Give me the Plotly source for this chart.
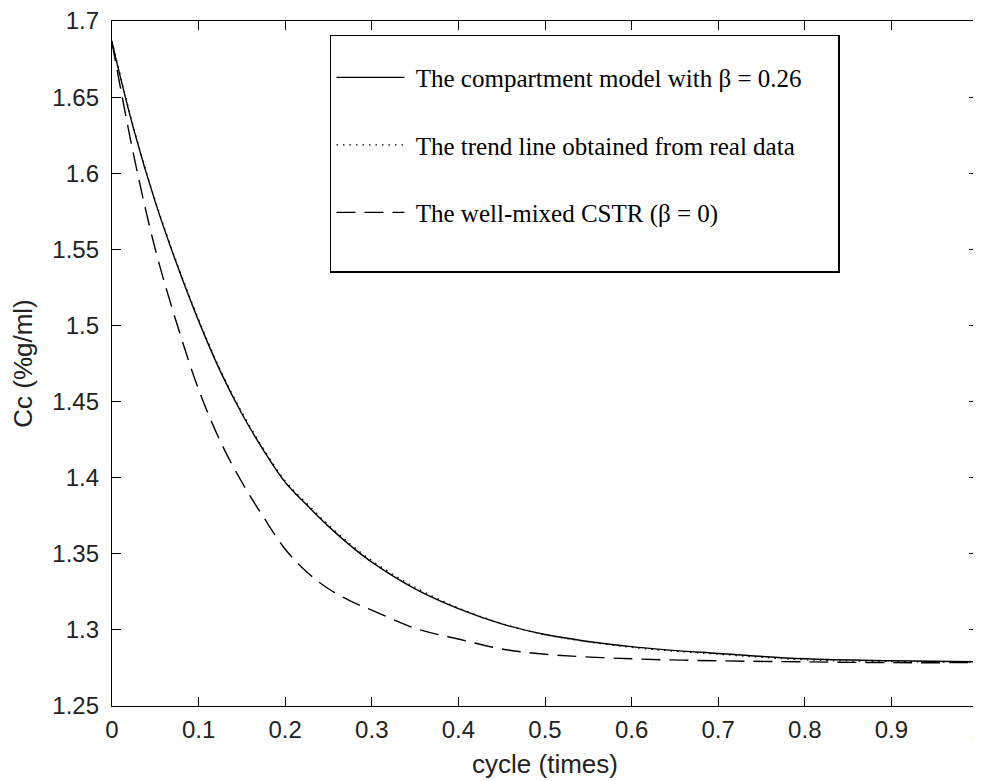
import plotly.graph_objects as go

# cycle (times)
t_grid = [0.0, 0.025, 0.05, 0.075, 0.1, 0.125, 0.15, 0.175, 0.2, 0.225, 0.25, 0.275, 0.3, 0.35,
          0.4, 0.45, 0.5, 0.6, 0.7, 0.8, 0.9, 1.0]
# The compartment model with beta = 0.26
cc_model = [1.686, 1.629, 1.581, 1.540, 1.503, 1.470, 1.442, 1.418, 1.397, 1.382, 1.368, 1.3555,
            1.3445, 1.327, 1.314, 1.304, 1.297, 1.289, 1.2845, 1.281, 1.2797, 1.279]
# The trend line obtained from real data
cc_trend = [1.687, 1.630, 1.582, 1.541, 1.504, 1.471, 1.443, 1.419, 1.398, 1.383, 1.369, 1.3565,
            1.3455, 1.328, 1.3145, 1.3042, 1.2968, 1.2885, 1.284, 1.2803, 1.2792, 1.2787]
# The well-mixed CSTR (beta = 0)
cc_cstr = [1.686, 1.612, 1.550, 1.501, 1.458, 1.424, 1.397, 1.374, 1.353, 1.338, 1.327, 1.319,
           1.313, 1.301, 1.294, 1.2875, 1.284, 1.281, 1.2797, 1.279, 1.2785, 1.2785]

x_ticks = [0, 0.1, 0.2, 0.3, 0.4, 0.5, 0.6, 0.7, 0.8, 0.9, 1]
x_tick_text = ["0", "0.1", "0.2", "0.3", "0.4", "0.5", "0.6", "0.7", "0.8", "0.9", "1"]
y_ticks = [1.25, 1.3, 1.35, 1.4, 1.45, 1.5, 1.55, 1.6, 1.65, 1.7]
y_tick_text = ["1.25", "1.3", "1.35", "1.4", "1.45", "1.5", "1.55", "1.6", "1.65", "1.7"]

names = ["The compartment model with β = 0.26",
         "The trend line obtained from real data",
         "The well-mixed CSTR (β = 0)"]

NB = "\u00a0"
fig = go.Figure()
fig.add_trace(go.Scatter(x=t_grid, y=cc_model, mode="lines", name=NB + names[0] + NB * 5, legendgroup="a",
                         line=dict(color="black", width=1.4, shape="spline", smoothing=1)))
fig.add_trace(go.Scatter(x=t_grid, y=cc_trend, mode="lines", name=NB + names[1], legendgroup="b",
                         line=dict(color="black", width=1.2, dash="1.5px,5px", shape="spline", smoothing=1)))
fig.add_trace(go.Scatter(x=t_grid, y=cc_cstr, mode="lines", name=NB + names[2], legendgroup="c",
                         line=dict(color="black", width=1.4, dash="19px,9px", shape="spline", smoothing=1)))
# empty spacer row at the bottom of the legend box (blank area in the original)
fig.add_trace(go.Scatter(x=[None], y=[None], mode="lines", name=NB, legendgroup="c",
                         hoverinfo="skip", line=dict(color="rgba(0,0,0,0)", width=0)))

tick_font = dict(family="Liberation Sans", size=24, color="#222")
title_font = dict(family="Liberation Sans", size=26, color="#222")

axis_common = dict(
    showline=True, linecolor="black", linewidth=1.3, mirror="ticks",
    ticks="inside", ticklen=9, tickwidth=1.2, tickcolor="black",
    showgrid=False, zeroline=False, automargin=False,
    ticklabeloverflow="allow",
    tickfont=tick_font,
)

fig.update_layout(
    width=981, height=781,
    margin=dict(l=104, r=11, t=13, b=83, autoexpand=False),
    paper_bgcolor="white", plot_bgcolor="white",
    xaxis=dict(range=[0, 1], tickvals=x_ticks, ticktext=x_tick_text,
               title=dict(text="cycle (times)", font=title_font, standoff=12),
               ticklabelstandoff=2, **axis_common),
    yaxis=dict(range=[1.25, 1.7], tickvals=y_ticks, ticktext=y_tick_text,
               title=dict(text="Cc (%g/ml)", font=title_font, standoff=13),
               ticklabelstandoff=7, **axis_common),
    showlegend=True,
    legend=dict(x=0.2517, y=0.9796, xanchor="left", yanchor="top",
                bgcolor="white", bordercolor="black", borderwidth=1.5,
                font=dict(family="Liberation Serif", size=25, color="black"),
                title=dict(text=NB, font=dict(size=14)),
                itemwidth=68, tracegroupgap=32, traceorder="grouped"),
)

fig.write_html("out.html")
